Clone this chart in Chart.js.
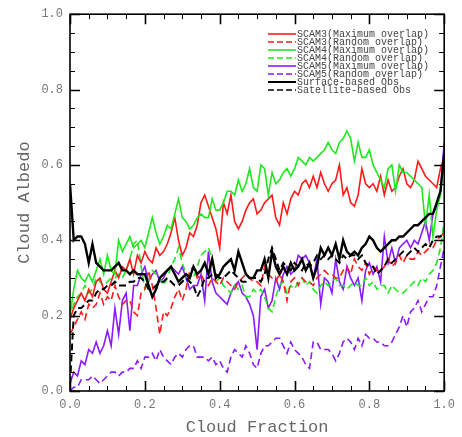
<!DOCTYPE html>
<html>
<head>
<meta charset="utf-8">
<script src="https://cdn.jsdelivr.net/npm/chart.js@4/dist/chart.umd.min.js"></script>
<style>
  body { margin: 0; background: #fff; }
  #wrap { width: 462px; height: 437px; }
</style>
</head>
<body>
<div id="wrap"><canvas id="albedoChart" width="462" height="437"></canvas></div>
<script>
// cloud fraction bins (x)
const cloudFraction = [
    0.00, 0.01, 0.02, 0.03, 0.04, 0.05, 0.06, 0.07, 0.08, 0.09,
    0.10, 0.11, 0.12, 0.13, 0.14, 0.15, 0.16, 0.17, 0.18, 0.19,
    0.20, 0.21, 0.22, 0.23, 0.24, 0.25, 0.26, 0.27, 0.28, 0.29,
    0.30, 0.31, 0.32, 0.33, 0.34, 0.35, 0.36, 0.37, 0.38, 0.39,
    0.40, 0.41, 0.42, 0.43, 0.44, 0.45, 0.46, 0.47, 0.48, 0.49,
    0.50, 0.51, 0.52, 0.53, 0.54, 0.55, 0.56, 0.57, 0.58, 0.59,
    0.60, 0.61, 0.62, 0.63, 0.64, 0.65, 0.66, 0.67, 0.68, 0.69,
    0.70, 0.71, 0.72, 0.73, 0.74, 0.75, 0.76, 0.77, 0.78, 0.79,
    0.80, 0.81, 0.82, 0.83, 0.84, 0.85, 0.86, 0.87, 0.88, 0.89,
    0.90, 0.91, 0.92, 0.93, 0.94, 0.95, 0.96, 0.97, 0.98, 0.99,
    1.00
];

const scam3Max = [
    0.19, 0.22, 0.24, 0.26, 0.24, 0.27, 0.25, 0.29, 0.30, 0.27, 0.26, 0.29, 0.32, 0.30, 0.33, 0.32, 0.35, 0.31, 0.36, 0.34, 0.37, 0.35, 0.34, 0.38, 0.36,
    0.37, 0.39, 0.42, 0.46, 0.40, 0.36, 0.38, 0.42, 0.41, 0.44, 0.50, 0.52, 0.49, 0.46, 0.43, 0.38, 0.50, 0.47, 0.52, 0.45, 0.43, 0.45, 0.48, 0.50, 0.51, 0.47,
    0.48, 0.50, 0.51, 0.52, 0.46, 0.44, 0.50, 0.47, 0.51, 0.53, 0.52, 0.55, 0.56, 0.54, 0.57, 0.54, 0.58, 0.55, 0.53, 0.55, 0.56, 0.60, 0.52, 0.54, 0.50,
    0.49, 0.52, 0.59, 0.55, 0.54, 0.55, 0.53, 0.57, 0.52, 0.56, 0.53, 0.54, 0.57, 0.59, 0.55, 0.54, 0.56, 0.61, 0.59, 0.57, 0.56, 0.55, 0.54, 0.59, 0.62
];
const scam3Rand = [
    0.15, 0.17, 0.19, 0.21, 0.19, 0.23, 0.22, 0.23, 0.26, 0.23, 0.25, 0.24, 0.28, 0.25, 0.23, 0.24, 0.24, 0.21, 0.20, 0.26, 0.27, 0.32, 0.28, 0.22, 0.15,
    0.21, 0.20, 0.22, 0.25, 0.27, 0.24, 0.27, 0.32, 0.33, 0.30, 0.31, 0.29, 0.28, 0.30, 0.29, 0.28, 0.30, 0.29, 0.28, 0.27, 0.29, 0.30, 0.31, 0.30, 0.29, 0.29,
    0.28, 0.33, 0.31, 0.30, 0.29, 0.31, 0.29, 0.24, 0.29, 0.30, 0.28, 0.30, 0.29, 0.29, 0.28, 0.30, 0.31, 0.32, 0.31, 0.31, 0.30, 0.30, 0.32, 0.33, 0.31,
    0.35, 0.33, 0.32, 0.34, 0.31, 0.33, 0.32, 0.32, 0.33, 0.35, 0.33, 0.34, 0.36, 0.34, 0.36, 0.35, 0.35, 0.37, 0.36, 0.37, 0.38, 0.38, 0.40, 0.41, 0.42
];
const scam4Max = [
    0.20, 0.27, 0.32, 0.30, 0.29, 0.31, 0.29, 0.32, 0.35, 0.31, 0.36, 0.32, 0.31, 0.40, 0.37, 0.39, 0.41, 0.38, 0.39, 0.40, 0.38, 0.42, 0.46, 0.42, 0.39,
    0.41, 0.44, 0.43, 0.47, 0.51, 0.46, 0.45, 0.43, 0.44, 0.46, 0.47, 0.46, 0.46, 0.51, 0.48, 0.48, 0.50, 0.53, 0.53, 0.52, 0.56, 0.53, 0.55, 0.59, 0.54, 0.53,
    0.60, 0.59, 0.52, 0.58, 0.55, 0.56, 0.58, 0.59, 0.57, 0.59, 0.62, 0.61, 0.60, 0.62, 0.61, 0.62, 0.63, 0.64, 0.66, 0.64, 0.63, 0.66, 0.67, 0.69, 0.67,
    0.61, 0.66, 0.62, 0.62, 0.64, 0.60, 0.58, 0.56, 0.54, 0.59, 0.60, 0.53, 0.60, 0.58, 0.58, 0.57, 0.56, 0.55, 0.54, 0.44, 0.52, 0.41, 0.48, 0.52, 0.62
];
const scam4Rand = [
    0.19, 0.23, 0.25, 0.26, 0.28, 0.26, 0.27, 0.30, 0.29, 0.28, 0.29, 0.30, 0.30, 0.31, 0.30, 0.32, 0.35, 0.39, 0.40, 0.33, 0.27, 0.29, 0.32, 0.31, 0.30,
    0.28, 0.30, 0.33, 0.35, 0.38, 0.34, 0.31, 0.31, 0.30, 0.33, 0.36, 0.37, 0.38, 0.35, 0.29, 0.30, 0.28, 0.27, 0.26, 0.28, 0.27, 0.28, 0.25, 0.25, 0.27, 0.26,
    0.27, 0.25, 0.22, 0.21, 0.25, 0.28, 0.29, 0.26, 0.28, 0.27, 0.29, 0.30, 0.28, 0.29, 0.27, 0.26, 0.28, 0.29, 0.28, 0.29, 0.30, 0.28, 0.28, 0.27, 0.28,
    0.29, 0.28, 0.28, 0.30, 0.28, 0.29, 0.27, 0.28, 0.28, 0.26, 0.28, 0.27, 0.26, 0.26, 0.27, 0.28, 0.29, 0.28, 0.30, 0.29, 0.31, 0.32, 0.34, 0.38, 0.45
];
const scam5Max = [
    0.02, 0.05, 0.04, 0.08, 0.07, 0.11, 0.10, 0.13, 0.10, 0.12, 0.16, 0.12, 0.22, 0.15, 0.24, 0.26, 0.16, 0.28, 0.28, 0.31, 0.33, 0.29, 0.31, 0.32, 0.29,
    0.30, 0.32, 0.33, 0.32, 0.31, 0.33, 0.30, 0.27, 0.28, 0.28, 0.31, 0.24, 0.37, 0.29, 0.26, 0.25, 0.24, 0.23, 0.26, 0.28, 0.29, 0.26, 0.25, 0.23, 0.20, 0.11,
    0.25, 0.27, 0.22, 0.24, 0.30, 0.27, 0.31, 0.33, 0.31, 0.32, 0.36, 0.35, 0.36, 0.34, 0.30, 0.35, 0.23, 0.30, 0.29, 0.26, 0.35, 0.29, 0.27, 0.33, 0.30,
    0.28, 0.30, 0.24, 0.32, 0.34, 0.31, 0.33, 0.29, 0.41, 0.34, 0.38, 0.34, 0.38, 0.39, 0.40, 0.38, 0.40, 0.39, 0.42, 0.45, 0.40, 0.47, 0.49, 0.53, 0.66
];
const scam5Rand = [
    0.00, 0.01, 0.01, 0.03, 0.03, 0.03, 0.04, 0.03, 0.02, 0.03, 0.04, 0.05, 0.05, 0.04, 0.05, 0.05, 0.06, 0.06, 0.08, 0.06, 0.09, 0.09, 0.10, 0.08, 0.11,
    0.09, 0.08, 0.07, 0.09, 0.10, 0.09, 0.11, 0.12, 0.12, 0.09, 0.09, 0.09, 0.08, 0.09, 0.07, 0.08, 0.06, 0.05, 0.09, 0.11, 0.10, 0.09, 0.12, 0.10, 0.07, 0.06,
    0.10, 0.12, 0.12, 0.13, 0.14, 0.14, 0.12, 0.10, 0.13, 0.11, 0.10, 0.09, 0.07, 0.06, 0.13, 0.13, 0.11, 0.11, 0.11, 0.10, 0.08, 0.10, 0.13, 0.14, 0.13,
    0.11, 0.14, 0.12, 0.15, 0.14, 0.14, 0.13, 0.13, 0.12, 0.12, 0.13, 0.15, 0.17, 0.20, 0.17, 0.21, 0.22, 0.24, 0.21, 0.23, 0.25, 0.25, 0.28, 0.33, 0.38
];
const surfaceObs = [
    0.55, 0.40, 0.41, 0.41, 0.39, 0.34, 0.39, 0.34, 0.33, 0.32, 0.32, 0.32, 0.33, 0.34, 0.32, 0.32, 0.31, 0.32, 0.31, 0.31, 0.31, 0.28, 0.25, 0.27, 0.30,
    0.31, 0.32, 0.33, 0.31, 0.29, 0.30, 0.31, 0.30, 0.33, 0.31, 0.32, 0.34, 0.31, 0.35, 0.30, 0.31, 0.33, 0.34, 0.35, 0.32, 0.37, 0.34, 0.31, 0.30, 0.30, 0.32,
    0.32, 0.35, 0.30, 0.37, 0.33, 0.31, 0.33, 0.31, 0.34, 0.32, 0.33, 0.35, 0.32, 0.34, 0.30, 0.33, 0.38, 0.36, 0.38, 0.36, 0.39, 0.35, 0.40, 0.37, 0.36,
    0.37, 0.36, 0.38, 0.39, 0.41, 0.40, 0.38, 0.37, 0.38, 0.39, 0.40, 0.40, 0.41, 0.41, 0.42, 0.43, 0.44, 0.44, 0.45, 0.46, 0.47, 0.47, 0.50, 0.53, 0.63
];
const satelliteObs = [
    0.02, 0.20, 0.22, 0.22, 0.23, 0.24, 0.24, 0.26, 0.27, 0.27, 0.28, 0.28, 0.29, 0.28, 0.28, 0.28, 0.29, 0.29, 0.30, 0.30, 0.29, 0.27, 0.27, 0.28, 0.29,
    0.29, 0.30, 0.29, 0.28, 0.28, 0.29, 0.30, 0.29, 0.28, 0.25, 0.27, 0.30, 0.30, 0.31, 0.31, 0.30, 0.30, 0.31, 0.32, 0.31, 0.30, 0.29, 0.29, 0.30, 0.30, 0.30,
    0.29, 0.31, 0.35, 0.38, 0.35, 0.32, 0.34, 0.33, 0.32, 0.34, 0.33, 0.32, 0.34, 0.33, 0.34, 0.36, 0.35, 0.36, 0.35, 0.36, 0.35, 0.34, 0.36, 0.35, 0.36,
    0.36, 0.35, 0.36, 0.34, 0.33, 0.33, 0.31, 0.32, 0.33, 0.35, 0.34, 0.35, 0.36, 0.37, 0.36, 0.37, 0.38, 0.37, 0.38, 0.39, 0.38, 0.40, 0.41, 0.41, 0.42
];

const axisTicks = [0, 0.2, 0.4, 0.6, 0.8, 1.0];

const MONO = '"Liberation Mono", "DejaVu Sans Mono", monospace';

function pts(values) {
    return cloudFraction.map((cf, i) => ({ x: cf, y: values[i] }));
}

function series(label, values, color, dashed, width, order) {
    return {
        label: label,
        data: pts(values),
        borderColor: color,
        backgroundColor: color,
        borderWidth: width,
        borderDash: dashed ? [7, 4] : [],
        pointRadius: 0,
        tension: 0,
        fill: false,
        order: order
    };
}

const datasets = [
    series('SCAM3(Maximum overlap)', scam3Max, '#ff1a1a', false, 1.6, 3),
    series('SCAM3(Random overlap)', scam3Rand, '#ff1a1a', true, 1.6, 4),
    series('SCAM4(Maximum overlap)', scam4Max, '#1ee81e', false, 1.6, 2),
    series('SCAM4(Random overlap)', scam4Rand, '#1ee81e', true, 1.6, 5),
    series('SCAM5(Maximum overlap)', scam5Max, '#8a1aff', false, 1.6, 6),
    series('SCAM5(Random overlap)', scam5Rand, '#8a1aff', true, 1.6, 7),
    series('Surface-based Obs', surfaceObs, '#000000', false, 2.4, 0),
    series('Satellite-based Obs', satelliteObs, '#000000', true, 2.0, 1)
];

// box round the plot, inward ticks on all four sides
const frameTicks = {
    id: 'frameTicks',
    afterDatasetsDraw(chart) {
        const { ctx, chartArea: a, scales } = chart;
        const x = scales.x, y = scales.y;
        ctx.save();
        ctx.strokeStyle = '#000';
        ctx.lineWidth = 1.6;
        ctx.strokeRect(a.left, a.top, a.right - a.left, a.bottom - a.top);
        for (let i = 0; i <= 20; i++) {
            const v = i / 20;
            const major = i % 4 === 0;
            const len = major ? 10 : 5;
            ctx.lineWidth = major ? 1.6 : 1;
            const px = Math.round(x.getPixelForValue(v)) + 0.5;
            const py = Math.round(y.getPixelForValue(v)) + 0.5;
            ctx.beginPath();
            ctx.moveTo(px, a.bottom); ctx.lineTo(px, a.bottom - len);
            ctx.moveTo(px, a.top); ctx.lineTo(px, a.top + len);
            ctx.moveTo(a.left, py); ctx.lineTo(a.left + len, py);
            ctx.moveTo(a.right, py); ctx.lineTo(a.right - len, py);
            ctx.stroke();
        }
        ctx.restore();
    }
};

// legend in the upper right corner of the plot
const cornerLegend = {
    id: 'cornerLegend',
    afterDraw(chart) {
        const ctx = chart.ctx;
        const x0 = 268, x1 = 296, top = 34, step = 8;
        ctx.save();
        ctx.font = '10px ' + MONO;
        ctx.textBaseline = 'middle';
        ctx.fillStyle = '#444';
        chart.data.datasets.forEach((ds, i) => {
            const yy = top + i * step;
            ctx.strokeStyle = ds.borderColor;
            ctx.lineWidth = ds.borderWidth > 2 ? 2 : 1.6;
            ctx.setLineDash(ds.borderDash.length ? [6, 3] : []);
            ctx.beginPath();
            ctx.moveTo(x0, yy); ctx.lineTo(x1, yy);
            ctx.stroke();
            ctx.fillText(ds.label, x1 + 1, yy);
        });
        ctx.restore();
    }
};

const config = {
    type: 'line',
    data: { datasets: datasets },
    options: {
        responsive: false,
        animation: false,
        layout: { padding: { left: 0, right: 15, top: 14, bottom: 0 } },
        scales: {
            x: {
                type: 'linear',
                min: 0,
                max: 1,
                afterBuildTicks: (scale) => { scale.ticks = axisTicks.map(v => ({ value: v })); },
                afterFit: (scale) => { scale.height = 46; },
                grid: { display: false, drawTicks: false },
                border: { display: false },
                ticks: {
                    padding: 7,
                    color: '#777',
                    font: { family: MONO, size: 12 },
                    maxRotation: 0,
                    callback: (v) => Number(v).toFixed(1)
                },
                title: {
                    display: true,
                    text: 'Cloud Fraction',
                    color: '#666',
                    font: { family: MONO, size: 17, lineHeight: 1 },
                    padding: { top: 0, bottom: 1 }
                }
            },
            y: {
                type: 'linear',
                min: 0,
                max: 1,
                afterBuildTicks: (scale) => { scale.ticks = axisTicks.map(v => ({ value: v })); },
                afterFit: (scale) => { scale.width = 70; },
                grid: { display: false, drawTicks: false },
                border: { display: false },
                ticks: {
                    padding: 7,
                    color: '#777',
                    font: { family: MONO, size: 12 },
                    callback: (v) => Number(v).toFixed(1)
                },
                title: {
                    display: true,
                    text: 'Cloud Albedo',
                    color: '#666',
                    font: { family: MONO, size: 17, lineHeight: 1 },
                    padding: { top: 16, bottom: 0 }
                }
            }
        },
        plugins: {
            legend: { display: false },
            tooltip: { enabled: false }
        }
    },
    plugins: [frameTicks, cornerLegend]
};

const ctx = document.getElementById('albedoChart').getContext('2d');
const albedoChart = new Chart(ctx, config);
</script>
</body>
</html>
